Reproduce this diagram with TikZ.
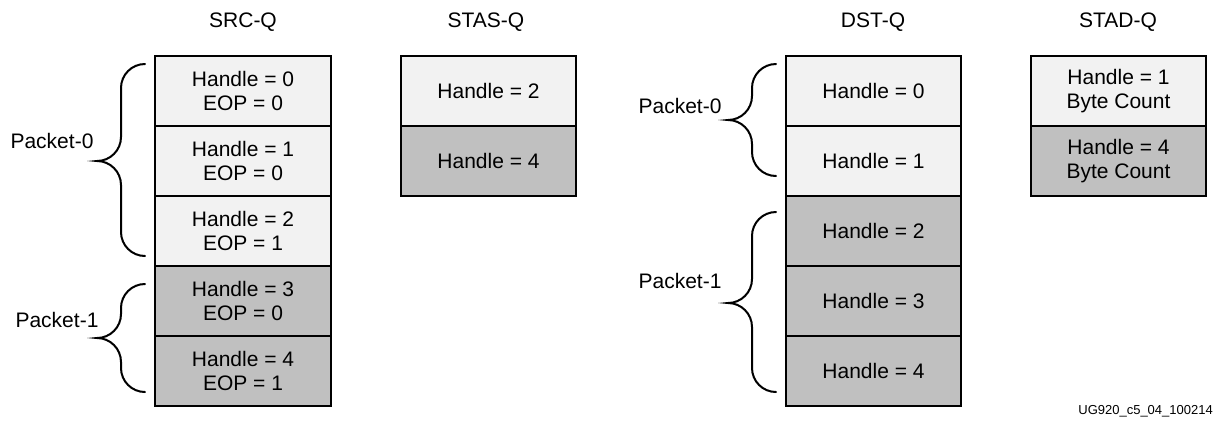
\documentclass[tikz,border=0pt]{standalone}
\usepackage{fontspec}
\setmainfont{Liberation Sans}
\definecolor{cellLight}{RGB}{242,242,242}
\definecolor{cellDark}{RGB}{192,192,192}
\newcommand{\qbrace}[5]{% xr, xt, ytop, ytip, ybot
  \pgfmathsetmacro{\qr}{(#1-#2)/2}%
  \pgfmathsetmacro{\qm}{(#1+#2)/2}%
  \draw[bracestyle] (#1,#3)
    .. controls ({#1-0.552*\qr},#3) and (\qm,{#3+0.448*\qr}) .. (\qm,{#3+\qr})
    -- (\qm,{#4-\qr})
    .. controls (\qm,{#4-0.448*\qr}) and ({#2+0.552*\qr},#4) .. (#2,#4)
    .. controls ({#2+0.552*\qr},#4) and (\qm,{#4+0.448*\qr}) .. (\qm,{#4+\qr})
    -- (\qm,{#5-\qr})
    .. controls (\qm,{#5-0.448*\qr}) and ({#1-0.552*\qr},#5) .. (#1,#5);
}
\begin{document}
\begin{tikzpicture}[x=1pt,y=-1pt,
  cell/.style={draw=black, line width=2.5pt, minimum height=70pt, inner sep=0pt,
    align=center, font=\fontsize{21}{24}\selectfont},
  light/.style={cell, fill=cellLight},
  dark/.style={cell, fill=cellDark},
  title/.style={font=\fontsize{21}{24}\selectfont, inner sep=0pt},
  lbl/.style={font=\fontsize{21}{24}\selectfont, inner sep=0pt},
  bracestyle/.style={line width=2pt, line cap=round},
  foot/.style={font=\fontsize{13}{15}\selectfont, inner sep=0pt}]
\useasboundingbox (0,0) rectangle (1217,421);
% titles
\node[title] (tsrc) at (243,22) {SRC-Q};
\node[title] (tstas) at (486,22) {STAS-Q};
\node[title] (tdst) at (873,22) {DST-Q};
\node[title] (tstad) at (1118,22) {STAD-Q};
% SRC-Q
\node[light, minimum width=176pt] (s0) at (243,91) {Handle = 0\\EOP = 0};
\node[light, minimum width=176pt] (s1) at (243,161) {Handle = 1\\EOP = 0};
\node[light, minimum width=176pt] (s2) at (243,231) {Handle = 2\\EOP = 1};
\node[dark, minimum width=176pt] (s3) at (243,301) {Handle = 3\\EOP = 0};
\node[dark, minimum width=176pt] (s4) at (243,371) {Handle = 4\\EOP = 1};
% STAS-Q
\node[light, minimum width=175pt] (a0) at (488.5,91) {Handle = 2};
\node[dark, minimum width=175pt] (a1) at (488.5,161) {Handle = 4};
% DST-Q
\node[light, minimum width=175pt] (d0) at (873.5,91) {Handle = 0};
\node[light, minimum width=175pt] (d1) at (873.5,161) {Handle = 1};
\node[dark, minimum width=175pt] (d2) at (873.5,231) {Handle = 2};
\node[dark, minimum width=175pt] (d3) at (873.5,301) {Handle = 3};
\node[dark, minimum width=175pt] (d4) at (873.5,371) {Handle = 4};
% STAD-Q
\node[light, minimum width=175pt] (b0) at (1118.5,91) {Handle = 1\\Byte Count};
\node[dark, minimum width=175pt] (b1) at (1118.5,161) {Handle = 4\\Byte Count};
% braces and labels
\qbrace{145}{97}{64}{161}{256}
\node[lbl] (sp0) at (52,141) {Packet-0};
\qbrace{145}{97}{284}{338}{392}
\node[lbl] (sp1) at (57,320) {Packet-1};
\qbrace{776}{728}{64}{120}{176}
\node[lbl] (dp0) at (680,106) {Packet-0};
\qbrace{776}{728}{212}{303}{392}
\node[lbl] (dp1) at (680,281) {Packet-1};
% footer
\node[foot, anchor=east] (ftr) at (1213,411) {UG920\_c5\_04\_100214};
\end{tikzpicture}
\end{document}
